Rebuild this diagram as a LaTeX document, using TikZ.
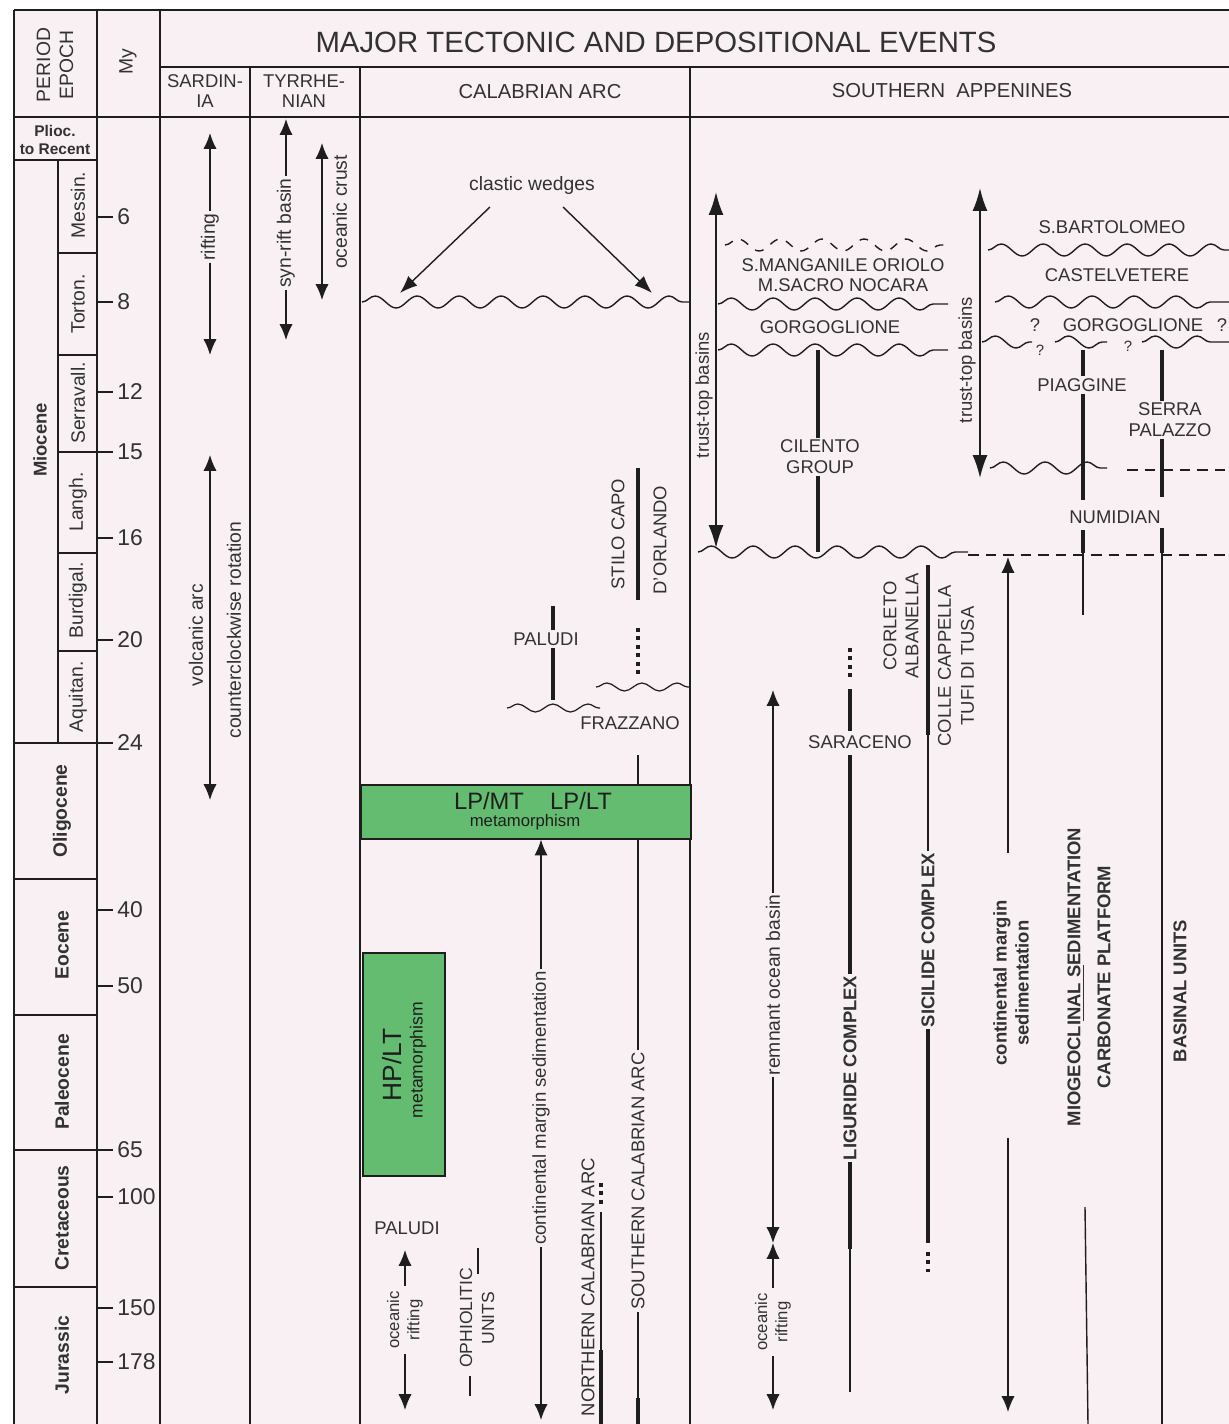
\documentclass[tikz,border=0pt]{standalone}
\usepackage{fontspec}
\setmainfont{Liberation Sans}
\usetikzlibrary{arrows.meta,decorations.pathmorphing}
\definecolor{bgpink}{RGB}{249,240,243}
\definecolor{mgreen}{RGB}{100,188,112}
\definecolor{ink}{RGB}{30,30,30}
\definecolor{txt}{RGB}{50,50,50}
\newcommand\fsz[2]{\fontsize{#1}{#2}\selectfont}
\begin{document}
\begin{tikzpicture}[x=0.02cm,y=-0.02cm,
  frame/.style={line width=1.2pt,draw=ink},
  tl/.style={line width=0.8pt,draw=ink},
  tu/.style={line width=2.6pt,draw=ink},
  du/.style={line width=2.6pt,draw=ink,dash pattern=on 2.2pt off 2.6pt},
  arrD/.style={tl,{Latex[length=9pt,width=7.5pt]}-{Latex[length=9pt,width=7.5pt]}},
  arrE/.style={tl,-{Latex[length=9pt,width=7.5pt]}},
  arrS/.style={tl,{Latex[length=9pt,width=7.5pt]}-},
  arrW/.style={tl,-{Latex[length=10pt,width=7.5pt]}},
  arrB/.style={line width=1pt,draw=ink,{Latex[length=13pt,width=8.5pt]}-{Latex[length=13pt,width=8.5pt]}},
  wave/.style={draw=ink,line width=0.8pt,decorate,decoration={snake,segment length=0.84cm,amplitude=0.12cm}},
  swave/.style={draw=ink,line width=0.7pt,decorate,decoration={snake,segment length=0.7cm,amplitude=0.08cm}},
  lab/.style={text=txt,inner sep=1pt,align=center,font=\fsz{10.5}{12}},
  vlab/.style={lab,rotate=90},
  blab/.style={lab,font=\bfseries\fsz{10.5}{12}},
  vblab/.style={blab,rotate=90},
  sml/.style={lab,font=\fsz{11}{12.5}},
  vsml/.style={sml,rotate=90},
  gbox/.style={fill=mgreen,draw=ink,line width=0.9pt,inner sep=0pt}
]
\useasboundingbox (0,0) rectangle (1229,1424);
\fill[white] (0,0) rectangle (1229,1424);
\fill[bgpink] (14,10) rectangle (1229,1424);

% ---------- frame ----------
\draw[frame,line width=1.6pt] (14,10) -- (1229,10);
\draw[frame] (14,10) -- (14,1424);
\draw[frame] (97,10) -- (97,1424);
\draw[frame] (160,10) -- (160,1424);
\draw[frame] (250,67) -- (250,1424);
\draw[frame] (360,67) -- (360,1424);
\draw[frame] (690,67) -- (690,1424);
\draw[frame] (160,67) -- (1229,67);
\draw[frame] (14,117) -- (1229,117);

% ---------- headers ----------
\node[lab,font=\fsz{16.7}{18}] (title) at (656,42) {MAJOR TECTONIC AND DEPOSITIONAL EVENTS};
\node[vlab,font=\fsz{11}{13}] (hpe) at (55,65) {PERIOD\\EPOCH};
\node[vlab,font=\fsz{11}{13}] (hmy) at (128,62) {My};
\node[lab,font=\fsz{10.5}{11.5}] (hsa) at (205,91) {SARDIN-\\IA};
\node[lab,font=\fsz{10.5}{11.5}] (hty) at (304,91) {TYRRHE-\\NIAN};
\node[lab,font=\fsz{11.5}{13}] (hca) at (540,92) {CALABRIAN ARC};
\node[lab,font=\fsz{11.5}{13}] (hsap) at (952,91) {SOUTHERN\ \ APPENINES};

% ---------- time scale ----------
\draw[tl] (14,160) -- (97,160);
\draw[tl] (58,160) -- (58,743);
\foreach \y in {253,355,553,651} \draw[tl] (58,\y) -- (97,\y);
\draw[tl] (58,452) -- (113,452);
\draw[tl] (14,743) -- (113,743);
\draw[tl] (14,879) -- (97,879);
\draw[tl] (14,1015) -- (97,1015);
\draw[tl] (14,1150) -- (113,1150);
\draw[tl] (14,1287) -- (97,1287);
\foreach \y in {217,302,392,538,640,910,986,1197,1308,1362} \draw[tl] (97,\y) -- (113,\y);
\foreach \y/\n in {217/6,302/8,392/12,452/15,538/16,640/20,743/24,910/40,986/50,1150/65,1197/100,1308/150,1362/178}
  \node[lab,anchor=west,font=\fsz{13}{14},inner sep=0pt] (t\n) at (117,\y) {\n};

\node[blab,font=\bfseries\fsz{8.8}{10}] (plio) at (55,140) {Plioc.\\to Recent};
\node[vblab,font=\bfseries\fsz{10.5}{12}] (mio) at (40,440) {Miocene};
\foreach \y/\s/\k in {205/Messin./sa,304/Torton./sb,403/Serravall./sc,502/Langh./sd,600/Burdigal./se,697/Aquitan./sf}
  \node[vlab,font=\fsz{11}{12}] (\k) at (78,\y) {\s};
\foreach \y/\s/\k in {811/Oligocene/ea,945/Eocene/eb,1082/Paleocene/ec,1218/Cretaceous/ed,1355/Jurassic/ee}
  \node[vblab,font=\bfseries\fsz{11}{12}] (\k) at (62,\y) {\s};

% ---------- Sardinia ----------
\coordinate (sr1) at (210,133); \coordinate (sr2) at (210,355);
\node[vsml] (srl) at (210,237) {rifting};
\draw[arrS] (sr1) -- (srl);
\draw[arrE] (srl) -- (sr2);
\coordinate (va1) at (210,455); \coordinate (va2) at (210,800);
\draw[arrD] (va1) -- (va2);
\node[vsml] (val) at (196,635) {volcanic arc};
\node[vsml] (ccw) at (234,630) {counterclockwise rotation};

% ---------- Tyrrhenian ----------
\coordinate (sy1) at (286,119); \coordinate (sy2) at (286,340);
\node[vsml] (syl) at (286,233) {syn-rift basin};
\draw[arrS] (sy1) -- (syl);
\draw[arrE] (syl) -- (sy2);
\coordinate (oc1) at (322,143); \coordinate (oc2) at (322,300);
\draw[arrD] (oc1) -- (oc2);
\node[vsml] (ocl) at (340,212) {oceanic crust};

% ---------- Calabrian Arc ----------
\node[sml] (cw) at (532,185) {clastic wedges};
\coordinate (cwa) at (490,207); \coordinate (cwb) at (400,293);
\coordinate (cwc) at (563,207); \coordinate (cwd) at (652,293);
\draw[arrW] (cwa) -- (cwb);
\draw[arrW] (cwc) -- (cwd);
\draw[wave] (362,302) -- (690,302);

\node[vlab] (stc) at (618,534) {STILO CAPO};
\node[vlab] (dor) at (660,540) {D'ORLANDO};
\draw[tu] (638,468) -- (638,600);
\draw[du] (638,628) -- (638,678);

\node[lab] (pal1) at (546,639) {PALUDI};
\coordinate (pa1) at (553,606); \coordinate (pa2) at (553,700);
\draw[tu] (pa1) -- (pa1 |- pal1.north);
\draw[tu] (pa1 |- pal1.south) -- (pa2);
\draw[swave] (507,708) -- (600,708);
\draw[swave] (596,687) -- (690,687);
\node[lab] (fra) at (630,723) {FRAZZANO};
\coordinate (sc0) at (638,755);

\node[gbox,anchor=north west,minimum width=6.6cm,minimum height=1.08cm] (lpbox) at (360,784) {};
\draw[tl] (sc0) -- (lpbox.north -| sc0);
\node[lab,font=\fsz{13.5}{15},text=ink] (lpmt) at (489,801) {LP/MT};
\node[lab,font=\fsz{13.5}{15},text=ink] (lplt) at (581,801) {LP/LT};
\node[lab,font=\fsz{9.5}{11},text=ink] (lpm) at (525,822) {metamorphism};

\coordinate (cm2) at (541,1420);
\node[vsml,font=\fsz{10.6}{12}] (cml) at (541,1108) {continental margin sedimentation};
\draw[arrS] (lpbox.south -| cml) -- (cml);
\draw[arrE] (cml) -- (cm2);

\node[gbox,anchor=north west,minimum width=1.64cm,minimum height=4.46cm] (hpbox) at (362,952) {};
\node[vlab,font=\fsz{15}{17},text=ink] (hpt) at (392,1065) {HP/LT};
\node[vlab,font=\fsz{10}{11},text=ink] (hpm) at (418,1060) {metamorphism};

\node[lab] (pal2) at (407,1228) {PALUDI};
\coordinate (or1) at (405,1250); \coordinate (or2) at (405,1410);
\node[vlab,font=\fsz{9.5}{11.5},inner sep=3pt] (orl) at (405,1320) {oceanic\\rifting};
\draw[arrS] (or1) -- (or1 |- orl.east);
\draw[arrE] (or1 |- orl.west) -- (or2);

\node[vlab,font=\fsz{10}{12.5}] (oph) at (477,1318) {OPHIOLITIC\\UNITS};
\draw[tl] (478,1248) -- (478,1274);
\draw[tl] (470,1376) -- (470,1396);

\node[vlab] (nca) at (588,1287) {NORTHERN CALABRIAN ARC};
\draw[du] (601,1183) -- (601,1207);
\draw[tl] (601,1212) -- (601,1424);
\draw[tu] (601,1350) -- (601,1424);

\node[vlab] (sca) at (638,1181) {SOUTHERN CALABRIAN ARC};
\draw[tl] (lpbox.south -| sca) -- (sca);
\draw[tl] (sca) -- (638,1424);
\draw[tu] (638,1398) -- (638,1424);

% ---------- Southern Apennines ----------
\coordinate (tt1) at (716,192); \coordinate (tt2) at (716,548);
\draw[arrB] (tt1) -- (tt2);
\node[vsml,font=\fsz{10.5}{12}] (ttl) at (704,395) {trust-top basins};
\draw[wave,dash pattern=on 5pt off 5pt] (725,245) -- (950,245);
\node[lab] (sman) at (843,265) {S.MANGANILE ORIOLO};
\node[lab] (msac) at (843,285) {M.SACRO NOCARA};
\draw[wave] (718,304) -- (948,304);
\node[lab] (gor1) at (830,327) {GORGOGLIONE};
\draw[wave] (718,350) -- (948,350);
\coordinate (ci1) at (818,350); \coordinate (ci2) at (818,552);
\node[lab] (cil) at (820,457) {CILENTO\\GROUP};
\draw[tu] (ci1) -- (ci1 |- cil.north);
\draw[tu] (ci1 |- cil.south) -- (ci2);
\draw[wave] (698,552) -- (968,552);
\draw[tl,dash pattern=on 6pt off 4pt] (968,555) -- (1229,555);

\coordinate (tr1) at (980,188); \coordinate (tr2) at (980,478);
\draw[arrB] (tr1) -- (tr2);
\node[vsml,font=\fsz{10.5}{12}] (trl) at (967,360) {trust-top basins};
\node[lab] (sbar) at (1112,227) {S.BARTOLOMEO};
\draw[wave] (988,250) -- (1229,250);
\node[lab] (cast) at (1117,275) {CASTELVETERE};
\draw[wave] (995,302) -- (1229,302);
\node[lab] (q1) at (1035,325) {?};
\node[lab] (gor2) at (1133,325) {GORGOGLIONE};
\node[lab] (q2) at (1222,325) {?};
\draw[wave] (982,342) -- (1032,342);
\draw[wave] (1055,342) -- (1107,342);
\draw[wave] (1142,342) -- (1229,342);
\node[lab,font=\fsz{8.5}{10}] (q3) at (1040,350) {?};
\node[lab,font=\fsz{8.5}{10}] (q4) at (1128,346) {?};

\coordinate (pg1) at (1083,350); \coordinate (pg2) at (1083,500);
\node[lab] (pia) at (1082,385) {PIAGGINE};
\draw[tu] (pg1) -- (pg1 |- pia.north);
\draw[tu] (pg1 |- pia.south) -- (pg2);
\node[lab] (num) at (1115,517) {NUMIDIAN};
\draw[tu] (1083,530) -- (1083,553);
\draw[tl] (1083,553) -- (1083,615);
\draw[tl] (1085,1207) -- (1088,1424);

\coordinate (se1) at (1162,350); \coordinate (se2) at (1162,497);
\node[lab] (ser) at (1170,420) {SERRA\\PALAZZO};
\draw[tu] (se1) -- (se1 |- ser.north);
\draw[tu] (se1 |- ser.south) -- (se2);
\draw[tu] (1162,528) -- (1162,553);
\draw[tl] (1162,553) -- (1162,1424);
\draw[wave] (990,468) -- (1107,468);
\draw[tl,dash pattern=on 6pt off 4pt] (1127,470) -- (1229,470);

\coordinate (cs1) at (1008,557); \coordinate (cs1b) at (1008,853);
\coordinate (cs2b) at (1008,1138); \coordinate (cs2) at (1008,1412);
\node[vblab,font=\bfseries\fsz{10.5}{12.5}] (csl) at (1011,983) {continental margin\\sedimentation};
\draw[arrS] (cs1) -- (cs1b);
\draw[arrE] (cs2b) -- (cs2);

\node[vblab,font=\bfseries\fsz{10.5}{17}] (miog) at (1089,977) {MIOGEOCLI\underline{NAL S}EDIMENTATION\\CARBONATE PLATFORM};
\node[vblab] (bas) at (1180,991) {BASINAL UNITS};

\node[vlab,font=\fsz{10.5}{12.5}] (cor) at (901,626) {CORLETO\\ALBANELLA};
\node[vlab,font=\fsz{10.5}{13}] (col) at (956,666) {COLLE CAPPELLA\\TUFI DI TUSA};
\coordinate (si1) at (928,565); \coordinate (si2) at (928,735);
\coordinate (si3) at (928,1243);
\node[vblab] (sic) at (928,940) {SICILIDE COMPLEX};
\draw[tu] (si1) -- (si2);
\draw[tl] (si2) -- (sic);
\draw[tu] (sic) -- (si3);
\draw[du] (928,1252) -- (928,1272);

\node[lab] (sar) at (860,742) {SARACENO};
\draw[du] (850,648) -- (850,681);
\draw[tu] (850,689) -- (850,731);
\coordinate (li1) at (850,755); \coordinate (li2) at (850,1249); \coordinate (li3) at (850,1392);
\node[vblab] (lig) at (850,1068) {LIGURIDE COMPLEX};
\draw[tu] (li1) -- (lig);
\draw[tu] (lig) -- (li2);
\draw[tl] (li2) -- (li3);

\coordinate (ro1) at (773,690); \coordinate (ro2) at (773,1243);
\node[vsml] (rol) at (773,985) {remnant ocean basin};
\draw[arrS] (ro1) -- (rol);
\draw[arrE] (rol) -- (ro2);
\coordinate (ro3) at (773,1243);
\node[vlab,font=\fsz{9.5}{11.5},inner sep=3pt] (orl2) at (773,1322) {oceanic\\rifting};
\coordinate (ro4) at (773,1410);
\draw[arrS] (ro3) -- (ro3 |- orl2.east);
\draw[arrE] (ro3 |- orl2.west) -- (ro4);
\end{tikzpicture}
\end{document}
